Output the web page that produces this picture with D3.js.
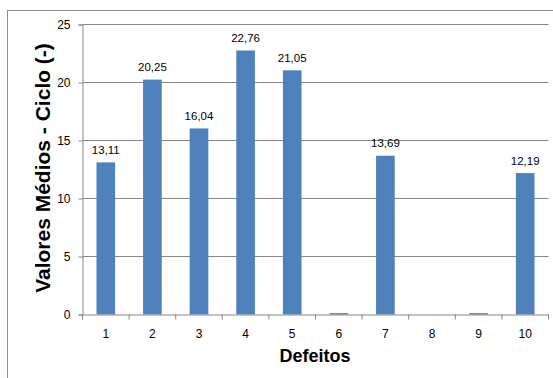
<!DOCTYPE html>
<html>
<head>
<meta charset="utf-8">
<script src="https://cdn.jsdelivr.net/npm/d3@7/dist/d3.min.js"></script>
<style>
  html, body { margin: 0; padding: 0; background: #fff; }
  svg { display: block; }
  text { font-family: "Liberation Sans", Arial, sans-serif; fill: #000; }
</style>
</head>
<body>
<svg id="chart" width="553" height="378"></svg>
<script>
// Defect categories and mean cycle values
const categories = ["1", "2", "3", "4", "5", "6", "7", "8", "9", "10"];
const values = [13.11, 20.25, 16.04, 22.76, 21.05, 0.12, 13.69, 0, 0.12, 12.19];
const valueLabels = ["13,11", "20,25", "16,04", "22,76", "21,05", null, "13,69", null, null, "12,19"];
const yTicks = [0, 5, 10, 15, 20, 25];
const xTitle = "Defeitos";
const yTitle = "Valores Médios - Ciclo (-)";

const svg = d3.select("#chart");
const gridColor = "#878787";
const barColor = "#4F81BD";

// Outer chart frame
svg.append("rect")
  .attr("x", 7.5).attr("y", 10.5)
  .attr("width", 600).attr("height", 400)
  .attr("fill", "none").attr("stroke", "#8a8a8a").attr("stroke-width", 1);

const x = d3.scaleBand().domain(categories).range([82.5, 548.5]).padding(0);
const y = d3.scaleLinear().domain([0, 25]).range([314.5, 24.5]);

// Horizontal gridlines
svg.append("g")
  .selectAll("line")
  .data(yTicks.filter(t => t > 0))
  .join("line")
  .attr("x1", 82.5).attr("x2", 548.5)
  .attr("y1", d => y(d)).attr("y2", d => y(d))
  .attr("stroke", gridColor).attr("stroke-width", 1);

// Bars
const barW = x.bandwidth() * 0.4;
svg.append("g")
  .selectAll("rect")
  .data(values)
  .join("rect")
  .attr("x", (d, i) => x(categories[i]) + (x.bandwidth() - barW) / 2)
  .attr("y", d => y(d))
  .attr("width", barW)
  .attr("height", d => y(0) - y(d))
  .attr("fill", barColor);

// Value labels
svg.append("g")
  .selectAll("text")
  .data(values.map((v, i) => ({ v, i, label: valueLabels[i] })).filter(d => d.label))
  .join("text")
  .attr("x", d => x(categories[d.i]) + x.bandwidth() / 2)
  .attr("y", d => y(d.v) - 8.5)
  .attr("text-anchor", "middle")
  .attr("font-size", "11.5px")
  .text(d => d.label);

// Y axis
const yAxis = svg.append("g")
  .attr("transform", "translate(82.5,0)")
  .call(d3.axisLeft(y).tickValues(yTicks).tickSize(4).tickPadding(8).tickFormat(d3.format("d")));
yAxis.selectAll("path, line").attr("stroke", gridColor);
yAxis.selectAll("text").attr("font-size", "12px").attr("font-family", "Liberation Sans, Arial, sans-serif").attr("fill", "#000");

// X axis: labels centred in bands, tick marks at band edges
const xAxis = svg.append("g")
  .attr("transform", `translate(0,${y(0)})`)
  .call(d3.axisBottom(x).tickSize(0).tickPadding(15));
xAxis.select(".domain").attr("stroke", gridColor);
xAxis.selectAll("text").attr("font-size", "12px").attr("font-family", "Liberation Sans, Arial, sans-serif").attr("fill", "#000");
const edges = categories.map(c => x(c)).concat([x.range()[1]]);
xAxis.append("g")
  .selectAll("line")
  .data(edges)
  .join("line")
  .attr("x1", d => d).attr("x2", d => d)
  .attr("y1", 0).attr("y2", 5)
  .attr("stroke", gridColor);

// Axis titles
svg.append("text")
  .attr("x", 315).attr("y", 362)
  .attr("text-anchor", "middle")
  .attr("font-size", "18px").attr("font-weight", "bold")
  .text(xTitle);

svg.append("text")
  .attr("transform", "translate(49.5,168) rotate(-90)")
  .attr("text-anchor", "middle")
  .attr("font-size", "21px").attr("font-weight", "bold")
  .text(yTitle);
</script>
</body>
</html>
